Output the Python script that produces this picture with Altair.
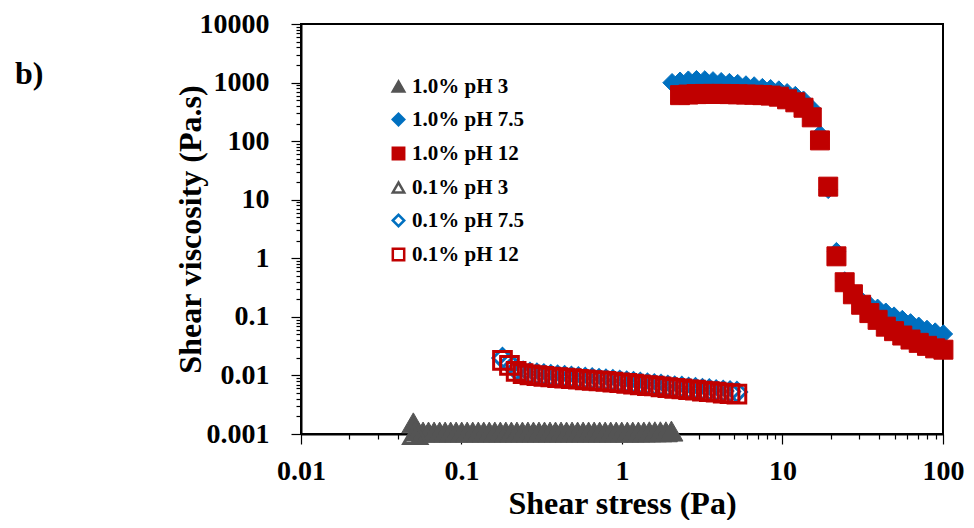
import altair as alt
import pandas as pd

SERIES = ["1.0% pH 3", "1.0% pH 7.5", "1.0% pH 12", "0.1% pH 3", "0.1% pH 7.5", "0.1% pH 12"]
SHAPES = ["triangle-up", "diamond", "square", "triangle-up", "diamond", "square"]
STROKES = ["#545454", "#0070C0", "#C00000", "#545454", "#0070C0", "#C00000"]
FILLS = ["#545454", "#0070C0", "#C00000", "transparent", "transparent", "transparent"]
SIZES = [530, 340, 361, 530, 361, 313]
WIDTHS = [1, 1, 1, 3, 3, 3]

# 1.0% pH 3
s1_x = [0.0501, 0.0532, 0.0576, 0.0623, 0.0675, 0.0731, 0.0791, 0.0856, 0.0926, 0.1003,
        0.1085, 0.1175, 0.1272, 0.1376, 0.1490, 0.1613, 0.1746, 0.1889, 0.2045, 0.2214,
        0.2396, 0.2593, 0.2807, 0.3038, 0.3289, 0.3560, 0.3853, 0.4171, 0.4514, 0.4886,
        0.5289, 0.5725, 0.6196, 0.6707, 0.7259, 0.7858, 0.8505, 0.9206, 0.9964, 1.079,
        1.167, 1.264, 1.368, 1.480, 1.602, 1.734, 1.877, 2.032]
s1_y = [0.00155, 0.00112, 0.00108, 0.00108, 0.00108, 0.00108, 0.00108, 0.00108, 0.00108, 0.00108,
        0.00108, 0.00108, 0.00108, 0.00108, 0.00108, 0.00108, 0.00108, 0.00108, 0.00108, 0.00108,
        0.00108, 0.00108, 0.00108, 0.00108, 0.00108, 0.00108, 0.00108, 0.00108, 0.00108, 0.00108,
        0.00108, 0.00108, 0.00108, 0.00108, 0.00108, 0.00108, 0.00108, 0.00108, 0.00108, 0.00108,
        0.00108, 0.00108, 0.00108, 0.00109, 0.00109, 0.00109, 0.00109, 0.00112]

# 1.0% pH 7.5
s2_x = [2.05, 2.30, 2.59, 2.91, 3.28, 3.69, 4.15, 4.67, 5.26, 5.92,
        6.66, 7.49, 8.43, 9.49, 10.68, 12.02, 13.52, 15.22, 17.12, 19.27,
        21.68, 24.40, 27.46, 30.90, 34.77, 39.13, 44.03, 49.55, 55.76, 62.75,
        70.61, 79.46, 89.41, 100.6]
s2_y = [995, 1055, 1100, 1120, 1110, 1070, 1035, 1000, 960, 910,
        875, 820, 785, 745, 670, 600, 500, 360, 130, 15,
        1.3, 0.41, 0.26, 0.19, 0.16, 0.14, 0.12, 0.103, 0.09, 0.079,
        0.069, 0.061, 0.055, 0.051]

# 1.0% pH 12
s3_x = [2.30, 2.59, 2.91, 3.28, 3.69, 4.15, 4.67, 5.26, 5.92,
        6.66, 7.49, 8.43, 9.49, 10.68, 12.02, 13.52, 15.22, 17.12, 19.27,
        21.68, 24.40, 27.46, 30.90, 34.77, 39.13, 44.03, 49.55, 55.76, 62.75,
        70.61, 79.46, 89.41, 100.6]
s3_y = [610, 625, 635, 640, 640, 640, 635, 630, 625,
        620, 610, 600, 574, 518, 460, 372, 255, 103, 16.7,
        1.08, 0.39, 0.243, 0.161, 0.116, 0.089, 0.068, 0.057, 0.048, 0.041,
        0.036, 0.032, 0.029, 0.0275]

# 0.1% pH 3
s4_x = [0.0515]
s4_y = [0.00102]

# 0.1% pH 7.5 and 0.1% pH 12 share the stress steps
low_x = [0.180, 0.199, 0.219, 0.242, 0.267, 0.295, 0.326, 0.360, 0.397, 0.439,
         0.484, 0.535, 0.590, 0.652, 0.719, 0.794, 0.877, 0.968, 1.07, 1.18,
         1.30, 1.44, 1.59, 1.75, 1.93, 2.13, 2.36, 2.60, 2.87, 3.17,
         3.50, 3.86, 4.27, 4.71, 5.20]
s5_y = [0.0198, 0.0160, 0.0125, 0.0115, 0.0109, 0.0106, 0.0103, 0.0100, 0.0098, 0.0096,
        0.0094, 0.0092, 0.0090, 0.0088, 0.0086, 0.0084, 0.0082, 0.0080, 0.0078, 0.0076,
        0.0074, 0.0072, 0.0070, 0.0068, 0.0066, 0.0064, 0.0063, 0.0061, 0.0060, 0.0058,
        0.0057, 0.0055, 0.0054, 0.0053, 0.0052]
s6_y = [0.0181, 0.0149, 0.0117, 0.0107, 0.0102, 0.0099, 0.0096, 0.0094, 0.0092, 0.0090,
        0.0088, 0.0086, 0.0084, 0.0082, 0.0081, 0.0079, 0.0077, 0.0075, 0.0073, 0.0071,
        0.0069, 0.0067, 0.0066, 0.0064, 0.0062, 0.0060, 0.0059, 0.0057, 0.0056, 0.0054,
        0.0053, 0.0052, 0.0050, 0.0049, 0.0048]

X_MAJOR = [0.01, 0.1, 1, 10, 100]
Y_MAJOR = [0.001, 0.01, 0.1, 1, 10, 100, 1000, 10000]

rows = []
for k, (xs, ys) in enumerate([(s1_x, s1_y), (s2_x, s2_y), (s3_x, s3_y),
                               (s4_x, s4_y), (low_x, s5_y), (low_x, s6_y)]):
    for xv, yv in zip(xs, ys):
        rows.append({"stress": xv, "visc": yv, "series": SERIES[k],
                     "msize": SIZES[k], "mwidth": WIDTHS[k], "idx": len(rows)})
df = pd.DataFrame(rows)

x_ticks = [round(m * d, 6) for d in X_MAJOR[:-1] for m in range(1, 10)] + [X_MAJOR[-1]]
y_ticks = [round(m * d, 6) for d in Y_MAJOR[:-1] for m in range(1, 10)] + [Y_MAJOR[-1]]

major = "abs(log(datum.value)/LN10 - round(log(datum.value)/LN10)) < 0.001"
lab = f"({major}) ? format(datum.value, '~g') : ''"
tsize = {"condition": {"test": major, "value": 10}, "value": 5}
FONT = "Liberation Serif"

common_axis = dict(labelExpr=lab, tickSize=tsize, labelFont=FONT, labelFontSize=28,
                   labelFontWeight="bold", labelColor="black", titleFont=FONT,
                   titleFontSize=32, titleFontWeight="bold", titleColor="black",
                   domainColor="black", domainWidth=2, tickColor="black", tickWidth=1.2,
                   grid=False, labelFlush=False, labelOverlap=False, labelBound=False)

leg = alt.Legend(orient="none", legendX=87, legendY=52, padding=0, title=None,
                 symbolSize=130, symbolStrokeWidth=2.5, labelOffset=3,
                 labelFont=FONT, labelFontSize=21, labelFontWeight="bold",
                 labelColor="black", rowPadding=11)

chart = alt.Chart(df).mark_point(opacity=1).encode(
    x=alt.X("stress:Q", title="Shear stress (Pa)",
            scale=alt.Scale(type="log", domain=[0.01, 100], nice=False),
            axis=alt.Axis(values=x_ticks, labelPadding=13, titleX=321, titleY=79,
                          titleBaseline="alphabetic", **common_axis)),
    y=alt.Y("visc:Q", title="Shear viscosity (Pa.s)",
            scale=alt.Scale(type="log", domain=[0.001, 10000], nice=False),
            axis=alt.Axis(values=y_ticks, labelPadding=22, titleX=-101, titleY=205,
                          titleBaseline="alphabetic", titleAngle=270, **common_axis)),
    shape=alt.Shape("series:N", scale=alt.Scale(domain=SERIES, range=SHAPES), legend=leg),
    stroke=alt.Stroke("series:N", scale=alt.Scale(domain=SERIES, range=STROKES), legend=leg),
    fill=alt.Fill("series:N", scale=alt.Scale(domain=SERIES, range=FILLS), legend=leg),
    size=alt.Size("msize:Q", scale=None),
    strokeWidth=alt.StrokeWidth("mwidth:Q", scale=None),
    order=alt.Order("idx:Q"),
).properties(
    width=642, height=410,
    title=alt.TitleParams("b)", anchor="start", frame="group", font=FONT, fontSize=32,
                          fontWeight="bold", color="black", baseline="alphabetic",
                          offset=0, dx=-286, dy=106),
    autosize=alt.AutoSizeParams(type="none"),
    padding={"left": 293, "top": 16, "right": 23, "bottom": 86},
).configure_view(stroke="black", strokeWidth=2)

chart.save("out.html", embed_options={"renderer": "svg", "actions": False})
